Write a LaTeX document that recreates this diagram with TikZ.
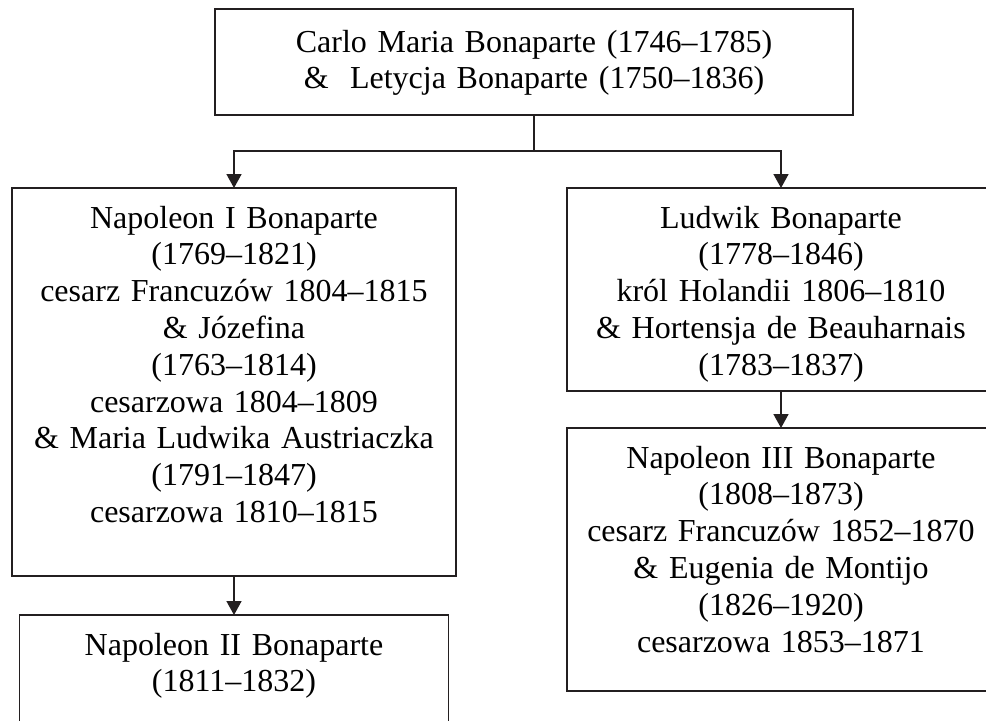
\documentclass[tikz,border=0pt]{standalone}
\usepackage{fontspec}
\setmainfont{Liberation Serif}
\usetikzlibrary{arrows.meta}
\definecolor{ink}{RGB}{35,31,32}

\begin{document}
\begin{tikzpicture}[x=0.5pt, y=-0.5pt,
		person/.style={draw=ink, line width=0.8pt, anchor=north, inner sep=0pt, outer sep=0pt,
			align=center, font=\fontsize{16pt}{18.4pt}\selectfont, text height=20pt},
		link/.style={draw=ink, line width=0.8pt},
		arrow/.style={link, -{Triangle[width=7.5pt, length=7pt]}}]
			%%%%% START %%%%%
			
			\useasboundingbox (0, 0) rectangle (986, 720);
			\clip (0, 0) rectangle (986, 720);
			
			\node[person, text width=319pt, text height=21.5pt, text depth=31.5pt] (parents) at (534, 9)
				{Carlo Maria Bonaparte (1746--1785)\\\& \ Letycja Bonaparte (1750--1836)};
			
			\node[person, text width=222pt, text depth=174pt] (napI) at (234, 188)
				{Napoleon I Bonaparte\\(1769--1821)\\cesarz Francuzów 1804--1815\\\& Józefina\\(1763--1814)\\cesarzowa 1804--1809\\\& Maria Ludwika Austriaczka\\(1791--1847)\\cesarzowa 1810--1815};
			\node[person, text width=214.5pt, text depth=100pt] (napII) at (234, 615)
				{Napoleon II Bonaparte\\(1811--1832)};
			
			\node[person, text width=214pt, text depth=81.5pt] (ludwik) at (781, 188)
				{Ludwik Bonaparte\\(1778--1846)\\król Holandii 1806--1810\\\& Hortensja de Beauharnais\\(1783--1837)};
			\node[person, text width=214pt, text depth=111.5pt] (napIII) at (781, 428)
				{Napoleon III Bonaparte\\(1808--1873)\\cesarz Francuzów 1852--1870\\\& Eugenia de Montijo\\(1826--1920)\\cesarzowa 1853--1871};
			
			\coordinate (split) at (534, 151);
			\draw[link] (parents.south) -- (split);
			\draw[arrow] (split) -| (napI.north);
			\draw[arrow] (split) -| (ludwik.north);
			
			\draw[arrow] (napI.south) -- (napII.north);
			\draw[arrow] (ludwik.south) -- (napIII.north);
			
			%%%%% END %%%%%
\end{tikzpicture}
\end{document}
